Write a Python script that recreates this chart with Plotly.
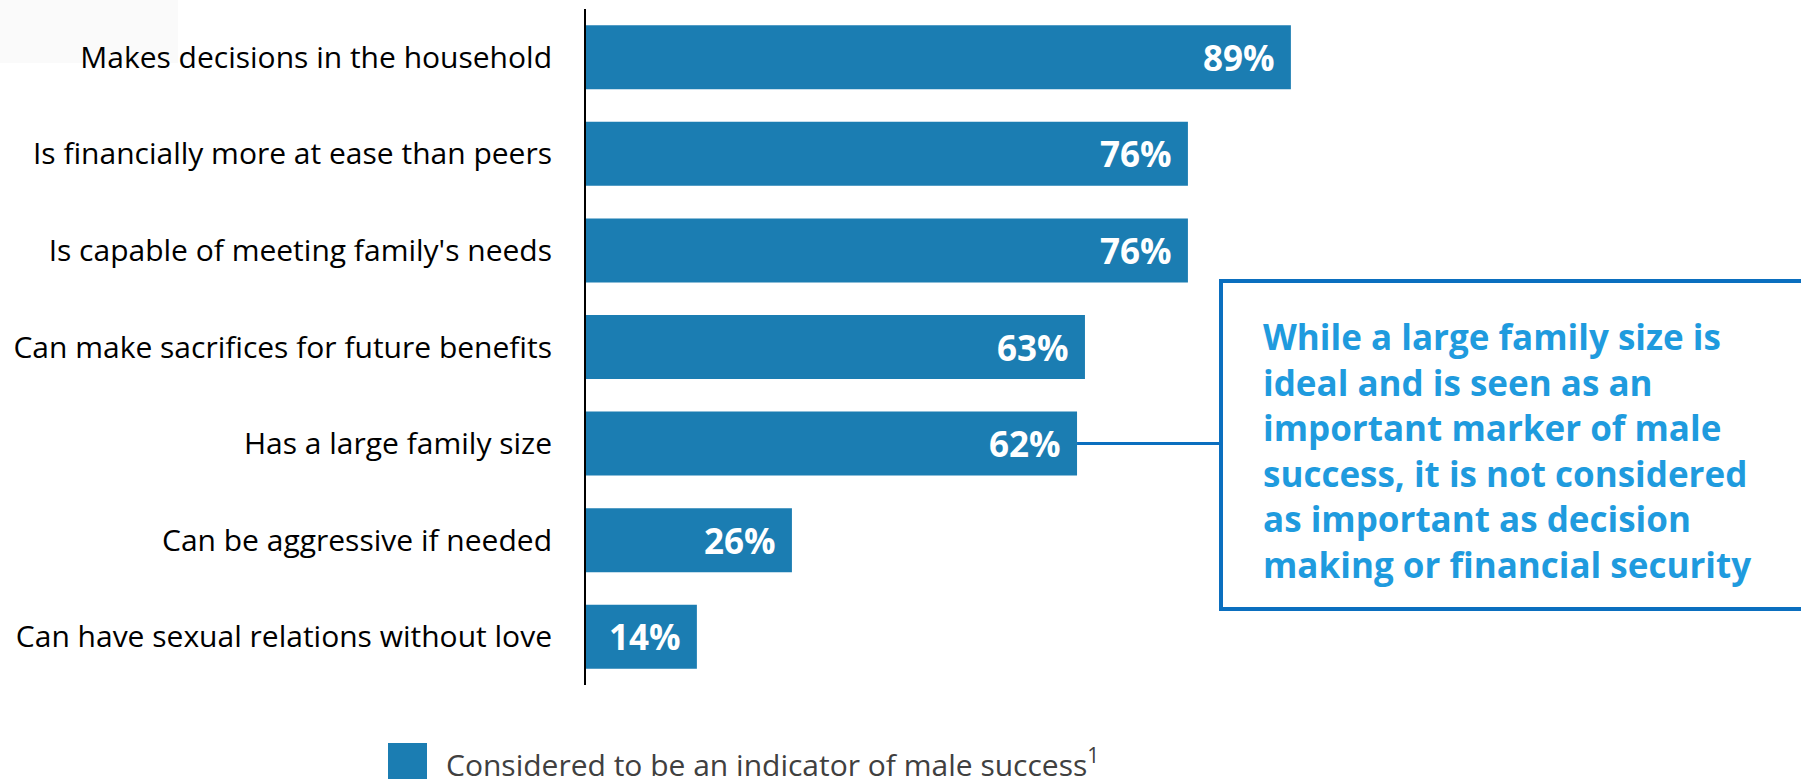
import plotly.graph_objects as go

# Survey results: share of respondents naming each trait
categories = [
    "Makes decisions in the household",
    "Is financially more at ease than peers",
    "Is capable of meeting family's needs",
    "Can make sacrifices for future benefits",
    "Has a large family size",
    "Can be aggressive if needed",
    "Can have sexual relations without love",
]
values = [89, 76, 76, 63, 62, 26, 14]

series_name = "Considered to be an indicator of male success<sup>1</sup>"
callout_lines = [
    "While a large family size is",
    "ideal and is seen as an",
    "important marker of male",
    "success, it is not considered",
    "as important as decision",
    "making or financial security",
]
callout_category = "Has a large family size"

W, H = 1801, 779
L, T, B = 586, 9, 94
PX_PER_PCT = 7.92

BAR = "#1B7DB2"
BOX = "#0B6FBF"
CALLOUT_TEXT = "#1F9BDE"
FONT = "Open Sans"


def px_x(p):
    return (p - L) / (W - L)


def px_y(p):
    return (H - B - p) / (H - T - B)


fig = go.Figure()
fig.add_trace(go.Bar(
    x=values,
    y=categories,
    orientation="h",
    marker=dict(color=BAR, line=dict(width=0)),
    width=0.663,
    showlegend=False,
    hoverinfo="skip",
))

# value labels, right-aligned inside each bar
for cat, v in zip(categories, values):
    fig.add_annotation(
        x=v, y=cat, xref="x", yref="y",
        text=f"<b>{v}%</b>", showarrow=False,
        xanchor="right", yanchor="middle", xshift=-14,
        font=dict(family=FONT, size=35, color="white"),
    )

# connector from the highlighted bar to the callout box
box_left = (1221 - L) / PX_PER_PCT
hl_value = values[categories.index(callout_category)]
fig.add_shape(
    type="line", xref="x", yref="y",
    x0=hl_value, x1=box_left, y0=callout_category, y1=callout_category,
    line=dict(color=BOX, width=3),
)

# callout box (runs off the right edge)
fig.add_shape(
    type="rect", xref="paper", yref="paper",
    x0=px_x(1221), x1=px_x(1830), y0=px_y(609), y1=px_y(281),
    line=dict(color=BOX, width=4), fillcolor="rgba(0,0,0,0)",
)
fig.add_annotation(
    x=px_x(1261), y=px_y(450), xref="paper", yref="paper",
    text="<b>" + "<br>".join(callout_lines) + "</b>", showarrow=False,
    xanchor="left", yanchor="middle", align="left",
    font=dict(family=FONT, size=35, color=CALLOUT_TEXT),
)

# legend swatch and label
fig.add_shape(
    type="rect", xref="paper", yref="paper",
    x0=px_x(388), x1=px_x(427), y0=px_y(782), y1=px_y(743),
    line=dict(width=0), fillcolor=BAR,
)
fig.add_annotation(
    x=px_x(444), y=px_y(763), xref="paper", yref="paper",
    text=series_name, showarrow=False,
    xanchor="left", yanchor="middle",
    font=dict(family=FONT, size=30, color="#404040"),
)

# faint panel in the top-left corner
fig.add_shape(
    type="rect", xref="paper", yref="paper", layer="below",
    x0=px_x(0), x1=px_x(178), y0=px_y(63), y1=px_y(-5),
    line=dict(width=0), fillcolor="#FAFAFA",
)

fig.update_layout(
    width=W, height=H,
    margin=dict(l=L, r=0, t=T, b=B, pad=0),
    paper_bgcolor="white", plot_bgcolor="white",
    font=dict(family=FONT),
    xaxis=dict(range=[0, (W - L) / PX_PER_PCT], visible=False, fixedrange=True),
    yaxis=dict(
        categoryorder="array", categoryarray=categories,
        range=[6.5, -0.5],
        showline=True, linecolor="black", linewidth=2,
        showgrid=False, zeroline=False, ticks="",
        ticklabelstandoff=26,
        tickfont=dict(family=FONT, size=30, color="black"),
        fixedrange=True,
    ),
    showlegend=False,
)

fig.write_html("out.html")
